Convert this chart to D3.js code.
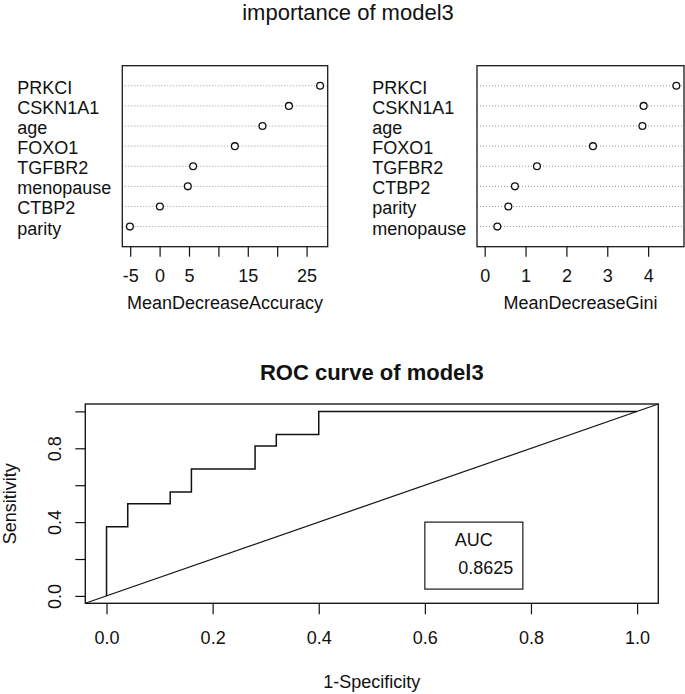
<!DOCTYPE html>
<html>
<head>
<meta charset="utf-8">
<script src="https://cdn.jsdelivr.net/npm/d3@7"></script>
<style>
  body { margin: 0; background: #fff; }
  text { font-family: "Liberation Sans", Arial, sans-serif; fill: #111; }
</style>
</head>
<body>
<div id="chart"></div>
<script>
// importance, listed top to bottom as drawn
const accLabels = ["PRKCI", "CSKN1A1", "age", "FOXO1", "TGFBR2", "menopause", "CTBP2", "parity"];
const accValues = [27.3, 22.0, 17.5, 12.8, 5.7, 4.8, 0.05, -5.05];
const accTicks = [-5, 0, 5, 10, 15, 20, 25];
const accTickLabels = ["-5", "0", "5", "", "15", "", "25"];

const giniLabels = ["PRKCI", "CSKN1A1", "age", "FOXO1", "TGFBR2", "CTBP2", "parity", "menopause"];
const giniValues = [4.69, 3.89, 3.86, 2.65, 1.28, 0.74, 0.58, 0.31];
const giniTicks = [0, 1, 2, 3, 4];
const giniTickLabels = ["0", "1", "2", "3", "4"];

// ROC curve steps (1-specificity, sensitivity)
const rocFpr = [0, 0, 0.04, 0.12, 0.16, 0.28, 0.32, 0.40, 1.0];
const rocTpr = [0, 0.375, 0.5, 0.5625, 0.6875, 0.8125, 0.875, 1, 1];
const rocTicks = [0, 0.2, 0.4, 0.6, 0.8, 1.0];
const rocXTickLabels = ["0.0", "0.2", "0.4", "0.6", "0.8", "1.0"];
const rocYTickLabels = ["0.0", "", "0.4", "", "0.8", ""];
const aucLabel = "AUC";
const aucValue = "0.8625";

const W = 685, H = 694;
const svg = d3.select("#chart").append("svg")
  .attr("width", W).attr("height", H);
svg.append("rect").attr("width", W).attr("height", H).attr("fill", "#fff");

// R style range padding (4%)
function pad(lo, hi) {
  const d = (hi - lo) * 0.04;
  return [lo - d, hi + d];
}

svg.append("text")
  .attr("x", 348).attr("y", 19.5)
  .attr("text-anchor", "middle")
  .style("font-size", "22px")
  .text("importance of model3");

function dotPanel(o) {
  const g = svg.append("g");
  const n = o.values.length;
  const x = d3.scaleLinear().domain(o.xlim).range([o.x0, o.x1]);
  const y = d3.scaleLinear().domain([0, n + 1]).range([o.y1, o.y0]);

  // dotted guide lines
  g.selectAll(".guide").data(o.values).join("line")
    .attr("x1", o.x0).attr("x2", o.x1)
    .attr("y1", (d, i) => y(n - i)).attr("y2", (d, i) => y(n - i))
    .attr("stroke", "#9a9a9a").attr("stroke-width", 1)
    .attr("stroke-dasharray", "1,2");

  g.selectAll(".pt").data(o.values).join("circle")
    .attr("cx", d => x(d)).attr("cy", (d, i) => y(n - i))
    .attr("r", 3.4)
    .attr("fill", "#fff").attr("stroke", "#111").attr("stroke-width", 1.3);

  g.selectAll(".lab").data(o.labels).join("text")
    .attr("x", o.labelX).attr("y", (d, i) => y(n - i) + 8)
    .style("font-size", "18px")
    .text(d => d);

  g.append("rect")
    .attr("x", o.x0).attr("y", o.y0)
    .attr("width", o.x1 - o.x0).attr("height", o.y1 - o.y0)
    .attr("fill", "none").attr("stroke", "#1a1a1a").attr("stroke-width", 1.3);

  const ax = g.append("g")
    .attr("transform", `translate(0,${o.y1})`)
    .style("color", "#111")
    .call(d3.axisBottom(x).tickValues(o.ticks).tickSize(10)
      .tickFormat((d, i) => o.tickLabels[i]));
  ax.select(".domain").remove();
  ax.selectAll(".tick line").attr("stroke-width", 1.2);
  ax.selectAll("text").attr("y", 35.6).attr("dy", null)
    .style("font-size", "18px");

  g.append("text")
    .attr("x", (o.x0 + o.x1) / 2).attr("y", 309)
    .attr("text-anchor", "middle")
    .style("font-size", "18px")
    .text(o.xlab);
}

dotPanel({
  x0: 122.3, x1: 327.7, y0: 65.7, y1: 246.7, labelX: 17.3,
  values: accValues, labels: accLabels,
  xlim: pad(d3.min(accValues), d3.max(accValues)),
  ticks: accTicks, tickLabels: accTickLabels,
  xlab: "MeanDecreaseAccuracy"
});

dotPanel({
  x0: 477, x1: 684, y0: 65.7, y1: 246.7, labelX: 372.3,
  values: giniValues, labels: giniLabels,
  xlim: pad(0, d3.max(giniValues)),
  ticks: giniTicks, tickLabels: giniTickLabels,
  xlab: "MeanDecreaseGini"
});

// ROC panel
const bx0 = 85.3, bx1 = 658.3, by0 = 404, by1 = 603.3;
const xs = d3.scaleLinear().domain(pad(0, 1)).range([bx0, bx1]);
const ys = d3.scaleLinear().domain(pad(0, 1)).range([by1, by0]);
const roc = svg.append("g");

roc.append("text")
  .attr("x", (bx0 + bx1) / 2).attr("y", 380)
  .attr("text-anchor", "middle")
  .style("font-size", "22px").style("font-weight", "bold")
  .text("ROC curve of model3");

// reference diagonal (abline 0,1) across the whole plot region
const dom = xs.domain();
roc.append("line")
  .attr("x1", xs(dom[0])).attr("y1", ys(dom[0]))
  .attr("x2", xs(dom[1])).attr("y2", ys(dom[1]))
  .attr("stroke", "#111").attr("stroke-width", 1.2);

const rocLine = d3.line()
  .x(d => xs(d[0])).y(d => ys(d[1]))
  .curve(d3.curveStepAfter);
roc.append("path")
  .datum(rocFpr.map((f, i) => [f, rocTpr[i]]))
  .attr("d", rocLine)
  .attr("fill", "none").attr("stroke", "#111").attr("stroke-width", 1.5);

roc.append("rect")
  .attr("x", bx0).attr("y", by0)
  .attr("width", bx1 - bx0).attr("height", by1 - by0)
  .attr("fill", "none").attr("stroke", "#1a1a1a").attr("stroke-width", 1.4);

const xa = roc.append("g")
  .attr("transform", `translate(0,${by1})`)
  .style("color", "#111")
  .call(d3.axisBottom(xs).tickValues(rocTicks).tickSize(11)
    .tickFormat((d, i) => rocXTickLabels[i]));
xa.select(".domain").remove();
xa.selectAll(".tick line").attr("stroke-width", 1.2);
xa.selectAll("text").attr("y", 40.7).attr("dy", null).style("font-size", "18px");

const ya = roc.append("g")
  .attr("transform", `translate(${bx0},0)`)
  .style("color", "#111")
  .call(d3.axisLeft(ys).tickValues(rocTicks).tickSize(10)
    .tickFormat((d, i) => rocYTickLabels[i]));
ya.select(".domain").remove();
ya.selectAll(".tick line").attr("stroke-width", 1.2);
ya.selectAll("text")
  .attr("x", 0).attr("y", -24.3).attr("dy", null)
  .attr("text-anchor", "middle")
  .attr("transform", "rotate(-90)")
  .style("font-size", "18px");

roc.append("text")
  .attr("transform", `translate(16,${(by0 + by1) / 2}) rotate(-90)`)
  .attr("text-anchor", "middle")
  .style("font-size", "18px")
  .text("Sensitivity");

roc.append("text")
  .attr("x", (bx0 + bx1) / 2).attr("y", 688)
  .attr("text-anchor", "middle")
  .style("font-size", "18px")
  .text("1-Specificity");

// AUC legend anchored at (0.6, 0.4)
const lx = xs(0.6), ly = ys(0.4), lw = 98, lh = 67;
roc.append("rect")
  .attr("x", lx).attr("y", ly).attr("width", lw).attr("height", lh)
  .attr("fill", "#fff").attr("stroke", "#1a1a1a").attr("stroke-width", 1.2);
roc.append("text")
  .attr("x", lx + lw / 2).attr("y", ly + 23.5)
  .attr("text-anchor", "middle")
  .style("font-size", "18px")
  .text(aucLabel);
roc.append("text")
  .attr("x", lx + lw - 9.5).attr("y", ly + 52.3)
  .attr("text-anchor", "end")
  .style("font-size", "18px")
  .text(aucValue);
</script>
</body>
</html>
